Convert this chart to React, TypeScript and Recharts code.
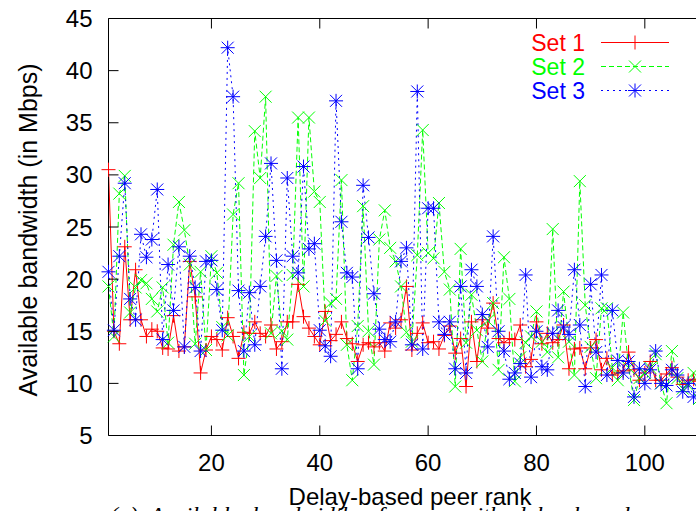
import React from 'react';
import { LineChart, Line, XAxis, YAxis } from 'recharts';

// available bandwidth (Mbps) per delay-based peer rank 1..110
const set1 = [
  30.5, 15.0, 13.8, 23.1, 16.1, 20.9, 16.1, 14.5, 15.2, 15.0,
  13.4, 13.3, 16.5, 13.1, 13.5, 21.7, 18.3, 11.0, 13.2, 14.5,
  14.2, 13.2, 16.3, 14.5, 12.4, 14.9, 14.8, 15.9, 14.8, 14.5,
  15.6, 13.3, 14.0, 15.9, 15.9, 19.5, 16.4, 15.3, 14.5, 13.7,
  16.9, 14.1, 14.7, 15.9, 14.3, 13.8, 12.1, 13.7, 13.9, 13.5,
  13.9, 13.1, 15.8, 15.3, 16.1, 19.3, 13.2, 14.8, 15.8, 13.9,
  14.0, 13.3, 14.6, 15.5, 12.9, 14.3, 9.7, 15.9, 12.1, 16.1,
  15.3, 17.7, 14.3, 13.9, 14.3, 14.2, 15.6, 11.6, 12.3, 15.9,
  13.8, 14.8, 13.9, 14.2, 15.6, 11.4, 13.3, 13.4, 11.4, 13.4,
  14.2, 11.3, 12.4, 10.8, 11.0, 11.2, 13.0, 11.3, 10.3, 11.0,
  12.1, 10.3, 10.3, 10.9, 11.5, 10.6, 9.9, 10.3, 10.4, 10.2,
];
const set2 = [
  19.3, 14.5, 28.2, 29.9, 16.8, 19.2, 19.9, 19.6, 18.1, 16.9,
  19.2, 13.9, 23.3, 27.4, 24.7, 21.4, 13.8, 20.7, 13.2, 22.2,
  20.6, 15.4, 14.6, 26.2, 29.2, 10.8, 14.5, 34.2, 29.7, 37.5,
  14.8, 20.3, 15.0, 14.2, 20.4, 35.5, 19.3, 35.5, 28.4, 27.4,
  16.0, 17.7, 18.1, 29.5, 13.7, 10.3, 15.5, 27.0, 15.0, 11.8,
  23.8, 26.6, 23.0, 21.7, 19.3, 14.9, 14.0, 22.3, 34.3, 22.5,
  22.0, 27.3, 20.7, 19.0, 9.7, 22.9, 13.9, 18.5, 15.1, 12.1,
  16.0, 17.7, 11.3, 22.1, 18.1, 10.2, 12.5, 13.9, 14.5, 16.9,
  14.0, 13.0, 24.8, 12.5, 18.8, 14.0, 10.8, 29.4, 17.5, 13.5,
  10.5, 17.2, 17.2, 11.5, 10.3, 16.8, 11.5, 8.4, 10.5, 11.0,
  11.5, 12.8, 10.0, 8.1, 13.1, 10.5, 9.5, 9.8, 11.0, 8.5,
];
const set3 = [
  20.7, 15.1, 22.2, 29.2, 18.1, 16.1, 24.3, 22.1, 23.8, 28.6,
  14.2, 21.4, 17.0, 23.1, 13.5, 22.2, 19.2, 13.1, 21.7, 21.8,
  19.0, 15.1, 42.2, 37.5, 18.9, 13.1, 18.7, 13.7, 19.3, 24.1,
  31.1, 21.8, 11.4, 29.7, 22.2, 20.6, 30.8, 22.9, 23.4, 15.1,
  13.6, 12.6, 37.1, 25.5, 20.6, 20.2, 11.4, 29.0, 24.0, 18.6,
  15.2, 14.2, 14.0, 15.9, 21.7, 23.0, 13.7, 38.0, 13.3, 26.8,
  26.8, 15.9, 14.7, 15.9, 11.4, 19.3, 11.0, 20.9, 19.3, 16.6,
  13.5, 24.1, 15.0, 13.1, 10.4, 11.0, 11.9, 20.4, 10.6, 15.0,
  11.6, 11.3, 14.8, 17.0, 15.4, 14.7, 20.9, 15.6, 9.7, 19.5,
  13.0, 20.4, 10.8, 17.0, 12.2, 11.0, 12.1, 8.7, 11.4, 10.0,
  11.3, 13.1, 10.0, 9.8, 11.3, 10.8, 9.2, 10.0, 8.7, 9.5,
];

const xTicks = [20, 40, 60, 80, 100];
const yTicks = [5, 10, 15, 20, 25, 30, 35, 40, 45];

const data = set1.map((v, i) => ({ rank: i + 1, set1: v, set2: set2[i], set3: set3[i] }));

const FONT = '"Liberation Sans", Arial, Helvetica, sans-serif';
const RED = '#ff0000';
const GREEN = '#00ff00';
const BLUE = '#0000ff';
const TICK = 10;

const plusPath = (x: number, y: number) => `M${x - 7},${y}h14M${x},${y - 7}v14`;
const crossPath = (x: number, y: number) => `M${x - 6},${y - 6}l12,12M${x - 6},${y + 6}l12,-12`;

const marker = (kind: 'plus' | 'cross' | 'star', color: string) => (props: any) => {
  const { cx, cy, index } = props;
  if (cx == null || cy == null) return <g key={`m-${kind}-${index}`} />;
  let d = '';
  if (kind === 'plus') d = plusPath(cx, cy);
  else if (kind === 'cross') d = crossPath(cx, cy);
  else d = plusPath(cx, cy) + crossPath(cx, cy);
  return <path key={`m-${kind}-${index}`} d={d} stroke={color} strokeWidth={1} fill="none" />;
};

const BottomTick = ({ x, y, payload }: any) => (
  <g>
    <line x1={x} y1={y} x2={x} y2={y - TICK} stroke="#000" />
    <text x={x} y={y + 27} textAnchor="middle" dominantBaseline="central" fontSize={24} fontFamily={FONT} fill="#000">
      {payload.value}
    </text>
  </g>
);
const TopTick = ({ x, y }: any) => <line x1={x} y1={y} x2={x} y2={y + TICK} stroke="#000" />;
const LeftTick = ({ x, y, payload }: any) => (
  <g>
    <line x1={x} y1={y} x2={x + TICK} y2={y} stroke="#000" />
    <text x={x - 16} y={y} textAnchor="end" dominantBaseline="central" fontSize={24} fontFamily={FONT} fill="#000">
      {payload.value}
    </text>
  </g>
);
const RightTick = ({ x, y }: any) => <line x1={x} y1={y} x2={x - TICK} y2={y} stroke="#000" />;

const series = [
  { key: 'set1', name: 'Set 1', color: RED, dash: undefined, kind: 'plus' as const },
  { key: 'set2', name: 'Set 2', color: GREEN, dash: '5 3', kind: 'cross' as const },
  { key: 'set3', name: 'Set 3', color: BLUE, dash: '2 4', kind: 'star' as const },
];

const LegendBox = () => (
  <svg width={696} height={120} style={{ position: 'absolute', left: 0, top: 0, pointerEvents: 'none' }}>
    {series.map((s, i) => {
      const y = 42.5 + i * 24;
      return (
        <g key={s.key}>
          <text x={585} y={y} textAnchor="end" dominantBaseline="central" fontSize={23} fontFamily={FONT} fill={s.color}>
            {s.name}
          </text>
          <line x1={601} y1={y} x2={669} y2={y} stroke={s.color} strokeDasharray={s.dash} />
          {marker(s.kind, s.color)({ cx: 635, cy: y, index: 0 })}
        </g>
      );
    })}
  </svg>
);

export default function App() {
  return (
    <div style={{ position: 'relative', width: 696, height: 511, overflow: 'hidden', background: '#fff' }}>
      <style>{'body{margin:0;overflow:hidden}'}</style>
      <LineChart
        width={706}
        height={511}
        data={data}
        margin={{ top: 17.5, right: 6, left: 107.5, bottom: 74.5 }}
      >
        <XAxis
          xAxisId="b"
          dataKey="rank"
          type="number"
          domain={[1, 110]}
          ticks={xTicks}
          height={1}
          tickSize={0}
          tickMargin={0}
          tickLine={false}
          axisLine={{ stroke: '#000' }}
          tick={<BottomTick />}
          interval={0}
        />
        <XAxis
          xAxisId="t"
          orientation="top"
          dataKey="rank"
          type="number"
          domain={[1, 110]}
          ticks={xTicks}
          height={1}
          tickSize={0}
          tickMargin={0}
          tickLine={false}
          axisLine={{ stroke: '#000' }}
          tick={<TopTick />}
          interval={0}
        />
        <YAxis
          yAxisId="l"
          type="number"
          domain={[5, 45]}
          ticks={yTicks}
          width={1}
          tickSize={0}
          tickMargin={0}
          tickLine={false}
          axisLine={{ stroke: '#000' }}
          tick={<LeftTick />}
          interval={0}
          allowDataOverflow
        />
        <YAxis
          yAxisId="r"
          orientation="right"
          type="number"
          domain={[5, 45]}
          ticks={yTicks}
          width={1}
          tickSize={0}
          tickMargin={0}
          tickLine={false}
          axisLine={{ stroke: '#000' }}
          tick={<RightTick />}
          interval={0}
        />
        {series.map((s) => (
          <Line
            key={s.key}
            xAxisId="b"
            yAxisId="l"
            dataKey={s.key}
            name={s.name}
            type="linear"
            stroke={s.color}
            strokeWidth={1}
            strokeDasharray={s.dash}
            dot={marker(s.kind, s.color)}
            activeDot={false}
            isAnimationActive={false}
          />
        ))}
      </LineChart>
      <LegendBox />
      <div
        style={{
          position: 'absolute',
          left: 0,
          top: 480,
          width: 820,
          textAlign: 'center',
          fontFamily: FONT,
          fontSize: 24,
          lineHeight: '34px',
        }}
      >
        Delay-based peer rank
      </div>
      <div
        style={{
          position: 'absolute',
          left: 28,
          top: 230,
          transform: 'translate(-50%, -50%) rotate(-90deg)',
          whiteSpace: 'nowrap',
          fontFamily: FONT,
          fontSize: 25,
        }}
      >
        Available bandwidth (in Mbps)
      </div>
      <div
        style={{
          position: 'absolute',
          left: 110,
          top: 503,
          width: 586,
          whiteSpace: 'nowrap',
          fontFamily: '"Liberation Serif", "DejaVu Serif", serif',
          fontStyle: 'italic',
          fontSize: 24,
          lineHeight: '24px',
          wordSpacing: 6,
        }}
      >
        (a) Available bandwidth of peers with delay-based peer rank
      </div>
    </div>
  );
}
